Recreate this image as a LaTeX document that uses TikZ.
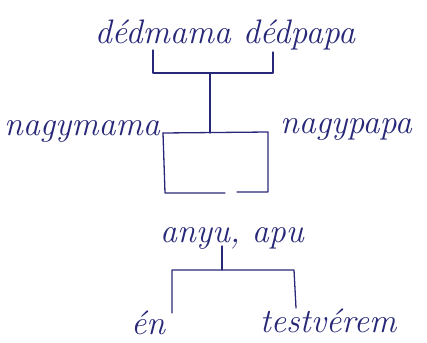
\documentclass[tikz,border=0pt]{standalone}
\definecolor{ink}{RGB}{40,40,120}
\tikzset{
  hand/.style={text=ink, font=\itshape\fontsize{34}{38}\selectfont, inner sep=0pt},
  wire/.style={draw=ink, line width=1.3pt, line cap=round, line join=round}
}
\begin{document}
\begin{tikzpicture}[x=1pt,y=-1pt]
\useasboundingbox (0,0) rectangle (427,342);
\node[hand, anchor=base] (ded) at (225,44) {dédmama dédpapa};
\node[hand, anchor=base west] (nm) at (4,135) {nagymama};
\node[hand, anchor=base west] (np) at (280,133) {nagypapa};
\node[hand, anchor=base] (szulok) at (232,242) {anyu, apu};
\node[hand, anchor=base] (en) at (148,334) {én};
\node[hand, anchor=base] (testver) at (328,332) {testvérem};
\coordinate (a1) at (153,50);
\coordinate (a2) at (153,73);
\coordinate (a3) at (273,73);
\coordinate (a4) at (273,52);
\coordinate (s1) at (210,73);
\coordinate (s2) at (210,133);
\coordinate (b0) at (163,133);
\coordinate (b1) at (268,132);
\coordinate (b2) at (268,192);
\coordinate (b3) at (237,192);
\coordinate (b4) at (165,193);
\coordinate (b5) at (225,193);
\coordinate (c1) at (222,246);
\coordinate (c2) at (222,270);
\coordinate (c3) at (172,270);
\coordinate (c4) at (172,313);
\coordinate (c5) at (294,270);
\coordinate (c6) at (296,308);
\draw[wire] (a1) -- (a2) -- (a3) -- (a4);
\draw[wire] (s1) -- (s2);
\draw[wire] (b0) -- (b1) -- (b2) -- (b3);
\draw[wire] (b0) -- (b4) -- (b5);
\draw[wire] (c1) -- (c2);
\draw[wire] (c4) -- (c3) -- (c5) -- (c6);
\end{tikzpicture}
\end{document}
